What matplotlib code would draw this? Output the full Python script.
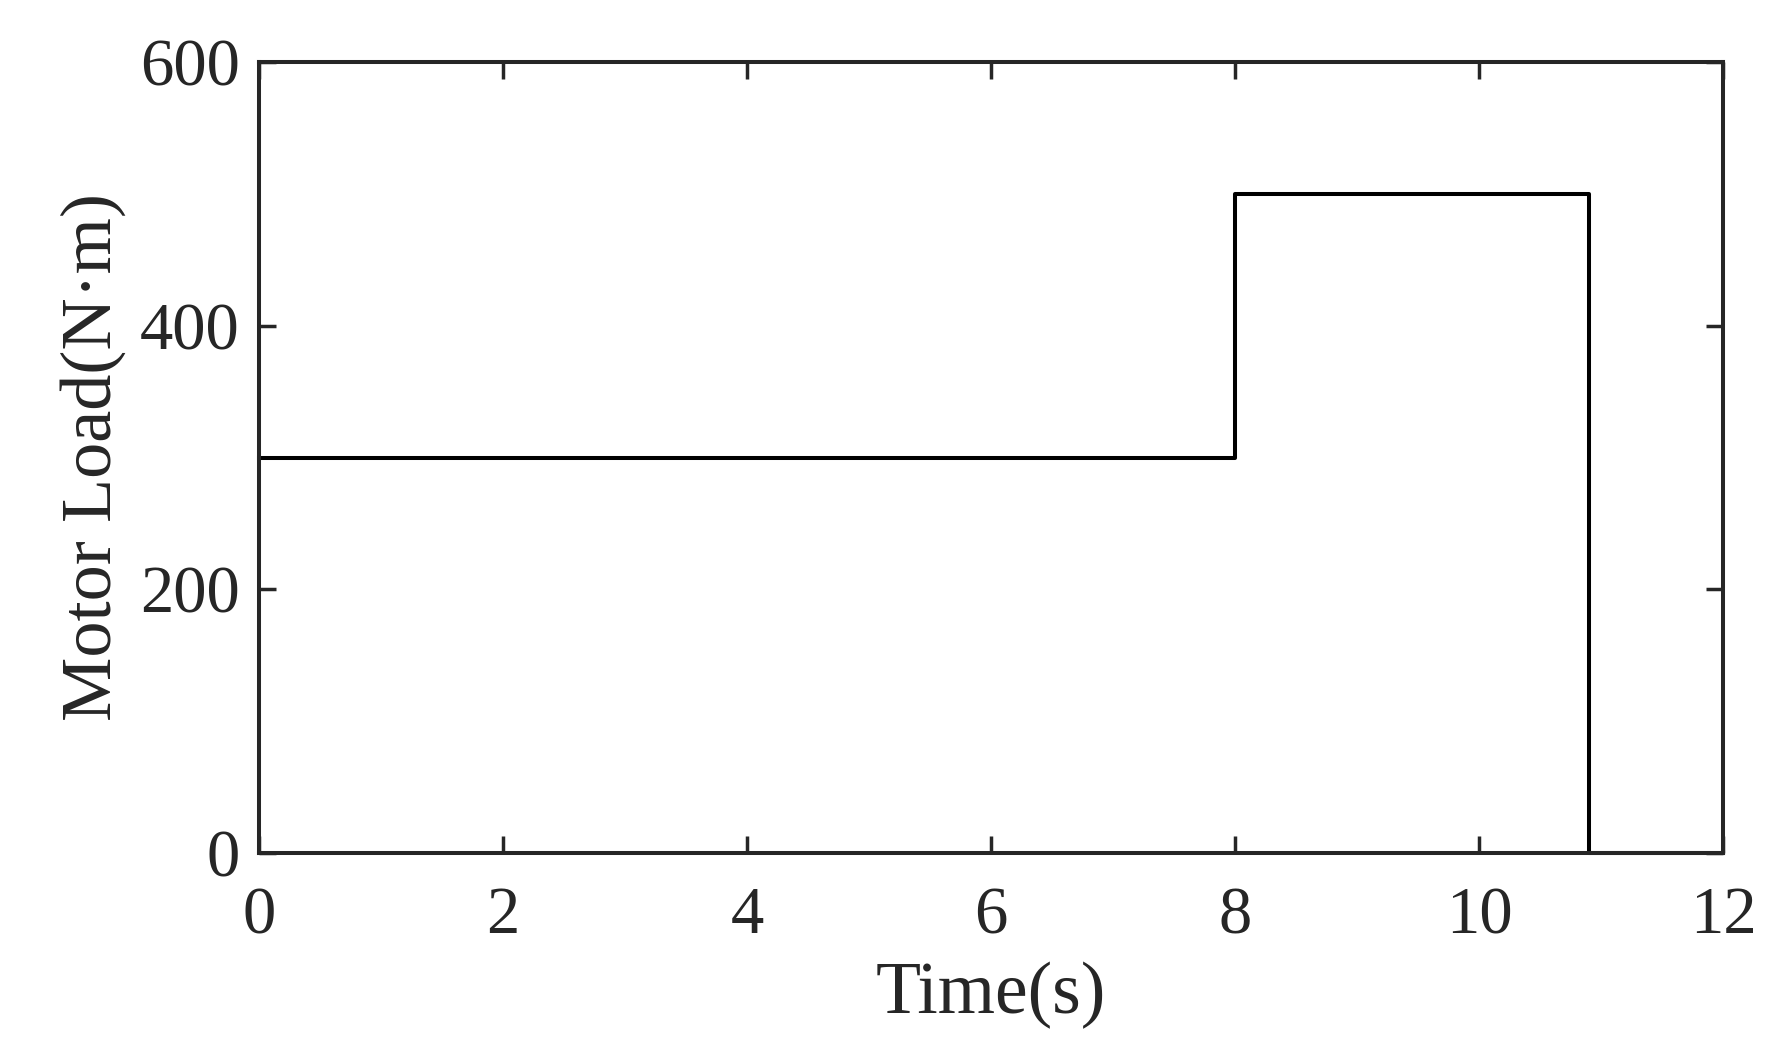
import matplotlib.pyplot as plt

# step load profile
time = [0, 8, 10.9, 12]
load = [300, 500, 0, 0]

xticks = [0, 2, 4, 6, 8, 10, 12]
yticks = [0, 200, 400, 600]

plt.rcParams['font.family'] = ['Liberation Serif', 'DejaVu Serif']

fig = plt.figure(figsize=(17.86, 10.51), dpi=100)
ax = fig.add_axes([259 / 1786, 1 - 853 / 1051, (1723 - 259) / 1786, (853 - 62) / 1051])

ax.step(time, load, where='post', color='black', lw=2.9, clip_on=False)

ax.set_xlim(0, 12)
ax.set_ylim(0, 600)
ax.set_xticks(xticks)
ax.set_yticks(yticks)

c = '#262626'
for s in ax.spines.values():
    s.set_linewidth(2.9)
    s.set_color(c)
ax.tick_params(direction='in', length=12, width=2.5, colors=c, labelsize=48,
               top=True, right=True)
ax.tick_params(axis='x', pad=24)
ax.tick_params(axis='y', pad=14)

ax.set_xlabel('Time(s)', fontsize=53, color=c, labelpad=10)
ax.set_ylabel('Motor Load(N·m)', fontsize=52, color=c, labelpad=10)

fig.savefig('out.png', dpi=100)
